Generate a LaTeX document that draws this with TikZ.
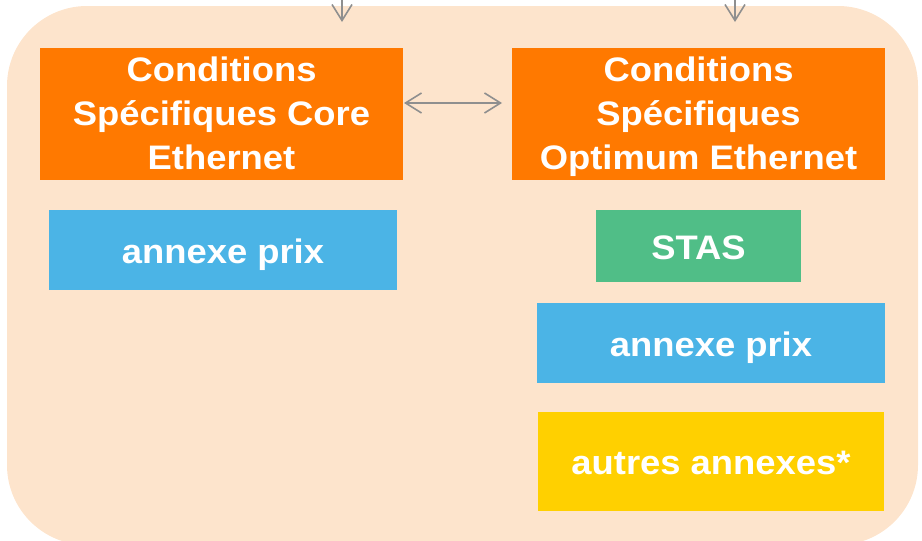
\documentclass[tikz,border=0pt]{standalone}
\usepackage{fontspec}
\setmainfont{Liberation Sans}[FakeStretch=1.07]
\usetikzlibrary{arrows.meta}
\definecolor{bgc}{HTML}{FDE4CC}
\definecolor{orng}{HTML}{FF7900}
\definecolor{blu}{HTML}{4BB4E6}
\definecolor{grn}{HTML}{50BE87}
\definecolor{ylw}{HTML}{FFD000}
\definecolor{gry}{HTML}{8F8F8F}
\newcommand{\topst}{\rule{0pt}{33pt}}
\newcommand{\botst}{\rule[-11pt]{0pt}{11pt}}
\tikzset{
  box/.style={inner sep=0pt, outer sep=0pt, text=white, align=center,
    font=\fontsize{34}{44}\selectfont\bfseries},
  oneline/.style={box, text height=26pt, text depth=0pt},
  arr/.style={draw=gry, line width=1.6pt, -{Straight Barb[length=16pt,width=20pt,line width=1.6pt]}},
  darr/.style={draw=gry, line width=1.6pt, {Straight Barb[length=16pt,width=20pt,line width=1.6pt]}-{Straight Barb[length=16pt,width=20pt,line width=1.6pt]}}
}
\begin{document}
\begin{tikzpicture}[x=1pt,y=-1pt]
\useasboundingbox (0,0) rectangle (922,541);
\clip (0,0) rectangle (922,541);
\fill[bgc, rounded corners=80pt] (7,6) rectangle (918,545);
\node[box, fill=orng, minimum width=363pt, minimum height=132pt] (o1) at (221.5,114) {\topst Conditions\\Spécifiques Core\\Ethernet\botst};
\node[box, fill=orng, minimum width=373pt, minimum height=132pt] (o2) at (698.5,114) {\topst Conditions\\Spécifiques\\Optimum Ethernet\botst};
\node[oneline, fill=blu, minimum width=348pt, minimum height=80pt] (b1) at (223,250) {annexe prix};
\node[oneline, fill=grn, minimum width=205pt, minimum height=72pt] (g) at (698.5,246) {STAS};
\node[oneline, fill=blu, minimum width=348pt, minimum height=80pt] (b2) at (711,343) {annexe prix};
\node[oneline, fill=ylw, minimum width=346pt, minimum height=99pt] (y) at (711,461.5) {autres annexes*};
\coordinate (t1) at (342,-2);
\coordinate (t1e) at (342,22);
\coordinate (t2) at (735,-2);
\coordinate (t2e) at (735,22);
\draw[arr] (t1) -- (t1e);
\draw[arr] (t2) -- (t2e);
\draw[darr, shorten <=1pt, shorten >=10pt] ([yshift=11pt]o1.east) -- ([yshift=11pt]o2.west);
\end{tikzpicture}
\end{document}
